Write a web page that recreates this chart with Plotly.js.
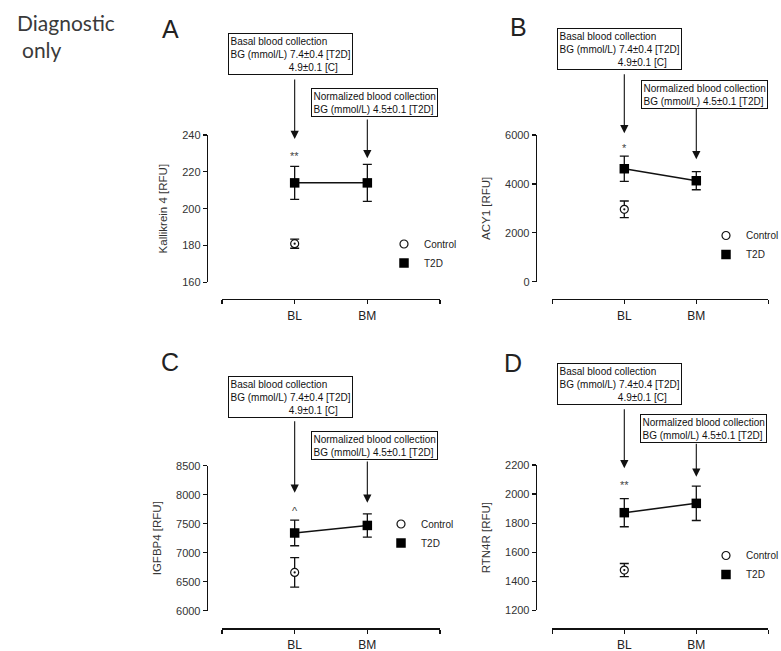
<!DOCTYPE html>
<html><head><meta charset="utf-8">
<script src="https://cdn.plot.ly/plotly-3.0.1.min.js"></script>
<style>body{margin:0;background:#fff}</style>
</head><body><div id="chart" style="width:781px;height:651px"></div>
<script>
// ---------- data ----------
const categories = ['BL', 'BM'];
const controlCategories = ['BL'];
const seriesNames = ['Control', 'T2D'];

// Panel A: Kallikrein 4
const kallikreinT2D = [214, 214];
const kallikreinT2DErr = [9, 10];
const kallikreinControl = [181];
const kallikreinControlErr = [2.5];
const kallikreinSig = '**';
const kallikreinSigY = 230;
const kallikreinTicks = [160, 180, 200, 220, 240];

// Panel B: ACY1
const acy1T2D = [4620, 4130];
const acy1T2DErr = [520, 370];
const acy1Control = [2960];
const acy1ControlErr = [340];
const acy1Sig = '*';
const acy1SigY = 5600;
const acy1Ticks = [0, 2000, 4000, 6000];

// Panel C: IGFBP4
const igfbp4T2D = [7340, 7470];
const igfbp4T2DErr = [220, 200];
const igfbp4Control = [6660];
const igfbp4ControlErr = [255];
const igfbp4Sig = '^';
const igfbp4SigY = 7770;
const igfbp4Ticks = [6000, 6500, 7000, 7500, 8000, 8500];

// Panel D: RTN4R
const rtn4rT2D = [1872, 1936];
const rtn4rT2DErr = [97, 118];
const rtn4rControl = [1477];
const rtn4rControlErr = [45];
const rtn4rSig = '**';
const rtn4rSigY = 2080;
const rtn4rTicks = [1200, 1400, 1600, 1800, 2000, 2200];

const panelLetters = ['A', 'B', 'C', 'D'];
const yTitles = ['Kallikrein 4 [RFU]', 'ACY1 [RFU]', 'IGFBP4 [RFU]', 'RTN4R [RFU]'];
const basalText = 'Basal blood collection<br>BG (mmol/L) 7.4\u00b10.4 [T2D]<br>' + '\u00a0'.repeat(21) + '4.9\u00b10.1 [C]';
const normText = 'Normalized blood collection<br>BG (mmol/L) 4.5\u00b10.1 [T2D]';

// ---------- layout helpers ----------
const W = 781, H = 651;
const px = v => v / W;
const py = v => 1 - v / H;
const FONT = 'Liberation Sans, Arial, sans-serif';

const xPos = categories.map((c, i) => i + 1);
const catIndex = c => categories.indexOf(c) + 1;

const panels = [
  {t2d: kallikreinT2D, t2dErr: kallikreinT2DErr, ctl: kallikreinControl, ctlErr: kallikreinControlErr, sig: kallikreinSig, sigY: kallikreinSigY, ticks: kallikreinTicks,
   xl: 222, xr: 440, xline: 299, yaxisX: 206.7, ytop: 135, ybot: 282.3,
   box1: [227.7, 33.3], b1bottom: 79, tip1: 139, box2: [310.7, 88.3], b2bottom: 119, tip2: 158.3,
   letter: [170, 29], legend: [384, 229.5]},
  {t2d: acy1T2D, t2dErr: acy1T2DErr, ctl: acy1Control, ctlErr: acy1ControlErr, sig: acy1Sig, sigY: acy1SigY, ticks: acy1Ticks,
   xl: 552.3, xr: 768.3, xline: 299, yaxisX: 535.7, ytop: 135, ybot: 281.7,
   box1: [557.3, 28.3], b1bottom: 73.7, tip1: 133.3, box2: [640.7, 80], b2bottom: 108.3, tip2: 159.3,
   letter: [518, 27], legend: [706, 221]},
  {t2d: igfbp4T2D, t2dErr: igfbp4T2DErr, ctl: igfbp4Control, ctlErr: igfbp4ControlErr, sig: igfbp4Sig, sigY: igfbp4SigY, ticks: igfbp4Ticks,
   xl: 222, xr: 440, xline: 628.3, yaxisX: 206.7, ytop: 465.7, ybot: 610.7,
   box1: [227.7, 376], b1bottom: 420.7, tip1: 492.7, box2: [310.7, 431], b2bottom: 461, tip2: 502.7,
   letter: [170, 361.7], legend: [381, 509.5]},
  {t2d: rtn4rT2D, t2dErr: rtn4rT2DErr, ctl: rtn4rControl, ctlErr: rtn4rControlErr, sig: rtn4rSig, sigY: rtn4rSigY, ticks: rtn4rTicks,
   xl: 552.3, xr: 768.3, xline: 628.3, yaxisX: 535.7, ytop: 465, ybot: 610.3,
   box1: [557.3, 362.7], b1bottom: 408.7, tip1: 468.3, box2: [640, 414.3], b2bottom: 443.3, tip2: 476.7,
   letter: [513, 363], legend: [706, 541]}
];

const traces = [];
const layout = {
  width: W, height: H,
  margin: {l: 0, r: 0, t: 0, b: 0, pad: 0, autoexpand: false},
  paper_bgcolor: '#ffffff', plot_bgcolor: 'rgba(0,0,0,0)',
  font: {family: FONT, color: '#222'},
  showlegend: true,
  annotations: [],
  shapes: []
};

panels.forEach((p, k) => {
  const sfx = k === 0 ? '' : String(k + 1);
  const xa = 'x' + sfx, ya = 'y' + sfx;
  const leg = 'legend' + sfx;
  const ctlX = controlCategories.map(catIndex);

  // connecting line for T2D (kept out of the legend)
  traces.push({
    type: 'scatter', mode: 'lines', showlegend: false, hoverinfo: 'skip',
    x: xPos, y: p.t2d, xaxis: xa, yaxis: ya,
    line: {color: '#111', width: 1.5}, cliponaxis: false
  });
  traces.push({
    type: 'scatter', mode: 'markers', name: seriesNames[0], legend: leg,
    x: ctlX, y: p.ctl, xaxis: xa, yaxis: ya,
    marker: {symbol: 'circle', size: 8, color: '#ffffff', line: {color: '#111', width: 1.2}},
    error_y: {type: 'data', array: p.ctlErr, visible: true, color: '#111', thickness: 1.3, width: 4.5},
    cliponaxis: false
  });
  traces.push({
    type: 'scatter', mode: 'markers', name: seriesNames[1], legend: leg,
    x: xPos, y: p.t2d, xaxis: xa, yaxis: ya,
    marker: {symbol: 'square', size: 9.5, color: '#000', line: {width: 0}},
    error_y: {type: 'data', array: p.t2dErr, visible: true, color: '#111', thickness: 1.3, width: 4.5},
    cliponaxis: false
  });
  traces.push({
    type: 'scatter', mode: 'markers', showlegend: false, hoverinfo: 'skip',
    x: ctlX, y: p.ctl, xaxis: xa, yaxis: ya,
    marker: {symbol: 'circle', size: 2.2, color: '#111'},
    cliponaxis: false
  });

  layout['xaxis' + sfx] = {
    domain: [px(p.xl), px(p.xr)], range: [0, categories.length + 1],
    anchor: 'free', position: py(p.xline),
    showline: true, linecolor: '#111', linewidth: 1.3,
    ticks: 'outside', ticklen: 4, tickwidth: 1.2, tickcolor: '#111',
    tickvals: [0, ...xPos, categories.length + 1], ticktext: ['', ...categories, ''],
    tickfont: {size: 12, color: '#222', family: FONT}, ticklabelstandoff: 1,
    showgrid: false, zeroline: false
  };
  layout['yaxis' + sfx] = {
    domain: [py(p.ybot), py(p.ytop)], range: [p.ticks[0], p.ticks[p.ticks.length - 1]],
    anchor: 'free', position: px(p.yaxisX),
    showline: true, linecolor: '#111', linewidth: 1.3,
    ticks: 'outside', ticklen: 4, tickwidth: 1.2, tickcolor: '#111',
    tickvals: p.ticks, ticktext: p.ticks.map(String),
    tickfont: {size: 11, color: '#333', family: FONT},
    title: {text: yTitles[k], font: {size: 11.5, color: '#333', family: FONT}, standoff: 10},
    showgrid: false, zeroline: false
  };
  layout[leg] = {
    x: px(p.legend[0]), xanchor: 'left', y: py(p.legend[1]), yanchor: 'top',
    bgcolor: 'rgba(0,0,0,0)', borderwidth: 0, itemwidth: 30,
    font: {size: 10, color: '#222', family: FONT}, traceorder: 'normal'
  };

  // panel letter
  layout.annotations.push({
    xref: 'paper', yref: 'paper', x: px(p.letter[0]), y: py(p.letter[1]),
    xanchor: 'center', yanchor: 'middle', showarrow: false,
    text: panelLetters[k], font: {size: 25, color: '#222', family: FONT}
  });
  // info boxes
  [[p.box1, basalText], [p.box2, normText]].forEach(([pos, txt]) => {
    layout.annotations.push({
      xref: 'paper', yref: 'paper', x: px(pos[0]), y: py(pos[1]),
      xanchor: 'left', yanchor: 'top', align: 'left', showarrow: false,
      text: txt, font: {size: 10, color: '#111', family: FONT},
      bordercolor: '#111', borderwidth: 1, borderpad: 1.5, bgcolor: '#ffffff'
    });
  });
  // arrows
  [[xPos[0], p.b1bottom, p.tip1], [xPos[1], p.b2bottom, p.tip2]].forEach(([xv, tail, tip]) => {
    layout.annotations.push({
      xref: xa, yref: 'paper', x: xv, y: py(tip),
      axref: 'pixel', ayref: 'pixel', ax: 0, ay: -(tip - tail),
      text: '', font: {size: 1}, borderpad: 0,
      showarrow: true, arrowhead: 2, arrowsize: 1.5, arrowwidth: 1.1, arrowcolor: '#111', standoff: 0
    });
  });
  // significance mark
  layout.annotations.push({
    xref: xa, yref: ya, x: xPos[0], y: p.sigY, yshift: -3,
    showarrow: false, text: p.sig, font: {size: 11, color: '#444', family: FONT}
  });
});

// corner note
layout.annotations.push({
  xref: 'paper', yref: 'paper', x: px(15), y: py(22), xanchor: 'left', yanchor: 'middle',
  showarrow: false, text: 'Diagnostic', font: {size: 21, color: '#3a3a3a', family: 'Lato, Open Sans, sans-serif'}
});
layout.annotations.push({
  xref: 'paper', yref: 'paper', x: px(20), y: py(49), xanchor: 'left', yanchor: 'middle',
  showarrow: false, text: 'only', font: {size: 21, color: '#3a3a3a', family: 'Lato, Open Sans, sans-serif'}
});

Plotly.newPlot('chart', traces, layout, {displayModeBar: false, staticPlot: true});
</script>
</body></html>
